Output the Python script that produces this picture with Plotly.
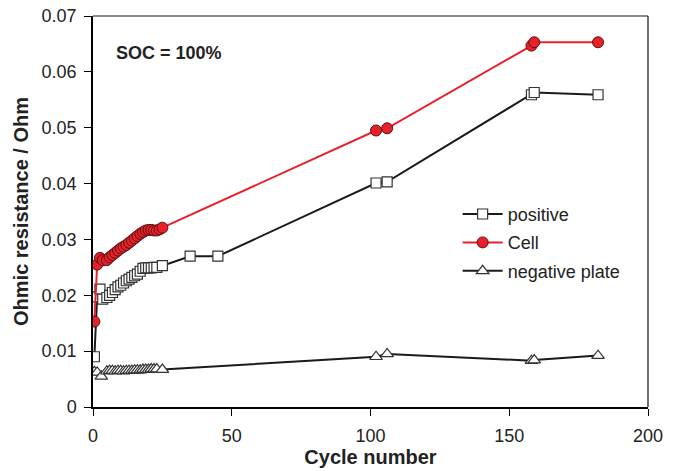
import plotly.graph_objects as go

# ---- data ----
cell_x = [0.5, 1.5, 2.5, 3.5, 5, 6, 7, 8, 9, 10, 11, 12, 13, 14, 15, 16, 17, 18, 19, 20,
          21, 22, 23, 24, 25, 102, 106, 158, 159, 182]
cell_y = [0.0153, 0.0255, 0.0267, 0.0263, 0.0263, 0.0268, 0.0272, 0.0276, 0.0280, 0.0284,
          0.0287, 0.0290, 0.0294, 0.0298, 0.0302, 0.0306, 0.0310, 0.0313, 0.0316, 0.0317,
          0.0317, 0.0316, 0.0316, 0.0318, 0.0321, 0.0495, 0.0499, 0.0647, 0.0653, 0.0653]

pos_x = [0.5, 1.5, 2.5, 3.5, 5, 6, 7, 8, 9, 10, 11, 12, 13, 14, 15, 16, 17, 18, 19, 20,
         21, 22, 23, 25, 35, 45, 102, 106, 158, 159, 182]
pos_y = [0.0090, 0.0197, 0.0211, 0.0193, 0.0196, 0.0200, 0.0205, 0.0210, 0.0215, 0.0218,
         0.0222, 0.0226, 0.0229, 0.0232, 0.0235, 0.0238, 0.0243, 0.0248, 0.0249, 0.0249,
         0.0249, 0.0250, 0.0250, 0.0253, 0.0270, 0.0270, 0.0401, 0.0403, 0.0559, 0.0563,
         0.0559]

neg_x = [0.5, 1.5, 3, 5, 6, 7, 8, 9, 10, 11, 12, 13, 14, 15, 16, 17, 18, 19, 20, 21, 22,
         23, 25, 102, 106, 158, 159, 182]
neg_y = [0.0063, 0.0062, 0.0055, 0.0064, 0.0065, 0.0065, 0.0064, 0.0065, 0.0065, 0.0064,
         0.0065, 0.0065, 0.0065, 0.0066, 0.0066, 0.0066, 0.0067, 0.0067, 0.0067, 0.0068,
         0.0068, 0.0068, 0.0067, 0.0090, 0.0095, 0.0083, 0.0084, 0.0092]

x_ticks = [0, 50, 100, 150, 200]
y_ticks = [0, 0.01, 0.02, 0.03, 0.04, 0.05, 0.06, 0.07]
y_tick_labels = ["0", "0.01", "0.02", "0.03", "0.04", "0.05", "0.06", "0.07"]

FONT = "Liberation Sans, Arial, sans-serif"

fig = go.Figure()
fig.add_trace(go.Scatter(
    x=pos_x, y=pos_y, name="positive", mode="lines+markers", legendgroup="a",
    line=dict(color="#1a1a1a", width=2),
    marker=dict(symbol="square", size=10, color="white",
                line=dict(color="#333333", width=1.2)),
))
fig.add_trace(go.Scatter(
    x=cell_x, y=cell_y, name="Cell", mode="lines+markers", legendgroup="b",
    line=dict(color="#e8202a", width=2),
    marker=dict(symbol="circle", size=11, color="#e8202a",
                line=dict(color="#5a1010", width=1)),
))
fig.add_trace(go.Scatter(
    x=neg_x, y=neg_y, name="negative plate", mode="lines+markers", legendgroup="c",
    line=dict(color="#1a1a1a", width=2),
    marker=dict(symbol="triangle-up", size=11, color="white",
                line=dict(color="#333333", width=1.2)),
))

fig.update_layout(
    width=680, height=471,
    margin=dict(l=93, r=32, t=16, b=64),
    paper_bgcolor="white", plot_bgcolor="white",
    font=dict(family=FONT, size=18, color="#222222"),
    showlegend=True,
    legend=dict(x=0.657, y=0.42, xanchor="left", yanchor="middle",
                bgcolor="rgba(0,0,0,0)", font=dict(size=18, color="#222222"),
                tracegroupgap=2, itemwidth=40),
    xaxis=dict(range=[0, 200], tickvals=x_ticks, ticks="outside", ticklen=7,
               ticklabelstandoff=5, automargin=False,
               showgrid=False, zeroline=False, showline=True, linecolor="black",
               linewidth=1.5, tickcolor="black",
               title=dict(text="<b>Cycle number</b>", font=dict(size=20), standoff=4)),
    yaxis=dict(range=[0, 0.07], tickvals=y_ticks, ticktext=y_tick_labels,
               ticks="outside", ticklen=7, ticklabelstandoff=4, automargin=False,
               showgrid=False, zeroline=False, showline=True, linecolor="black",
               linewidth=1.5, tickcolor="black",
               title=dict(text="<b>Ohmic resistance / Ohm</b>", font=dict(size=20), standoff=8)),
    shapes=[
        dict(type="line", xref="paper", yref="paper", x0=0, x1=1, y0=1, y1=1,
             line=dict(color="#666666", width=1.3)),
        dict(type="line", xref="paper", yref="paper", x0=1, x1=1, y0=0, y1=1,
             line=dict(color="#222222", width=1.3)),
    ],
    annotations=[
        dict(text="<b>SOC = 100%</b>", xref="paper", yref="paper", x=0.038, y=0.905,
             xanchor="left", yanchor="middle", showarrow=False,
             font=dict(size=18, color="#222222")),
    ],
)

fig.write_html("out.html")
